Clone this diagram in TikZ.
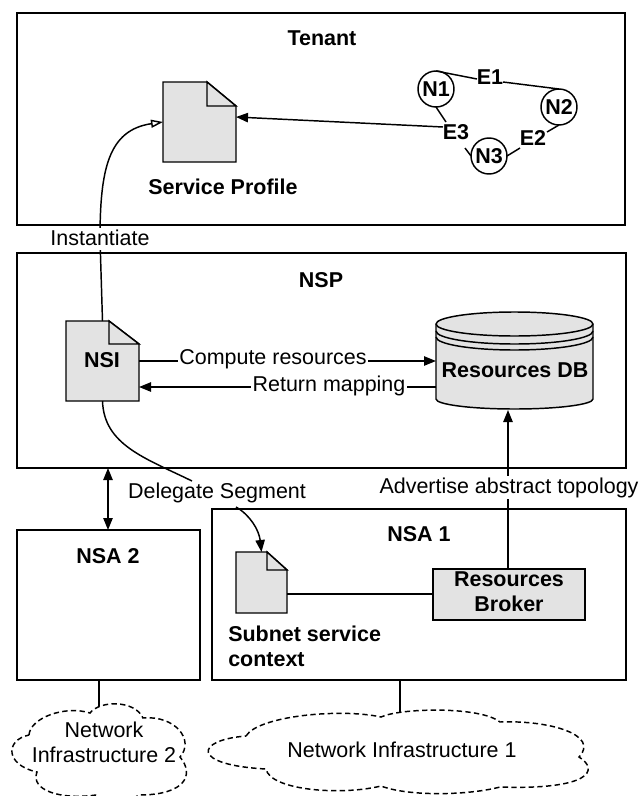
\documentclass[tikz,border=0pt]{standalone}
\usepackage{fontspec}
\setmainfont{Liberation Sans}
\usetikzlibrary{arrows.meta}
\definecolor{docgray}{HTML}{E3E3E3}
\tikzset{
  px/.style 2 args={minimum width=#1*0.75pt, minimum height=#2*0.75pt},
  panel/.style={draw=black, fill=white, line width=1.1pt, inner sep=0pt, outer sep=0pt},
  anchorbox/.style={inner sep=0pt, outer sep=0pt},
  shapeline/.style={draw=black, fill=docgray, line width=1.1pt, line join=miter},
  link/.style={draw=black, line width=1.1pt},
  head/.style={-{Triangle[length=9pt,width=7pt]}},
  openhead/.style={-{Triangle[open,fill=white,length=9pt,width=6pt]}},
  boldtext/.style={font=\fontsize{16.1}{18.75}\selectfont\bfseries, inner sep=0pt, align=center},
  plaintext/.style={font=\fontsize{16.1}{18.75}\selectfont, inner sep=0pt, align=center},
  masklabel/.style={plaintext, fill=white, inner xsep=1pt, inner ysep=1pt},
  cloudline/.style={draw=black, fill=white, line width=1.1pt, dash pattern=on 4pt off 2.5pt},
  circlenode/.style={circle, draw=black, fill=white, line width=1.1pt, minimum size=27pt, inner sep=0pt, outer sep=0pt, font=\fontsize{16.1}{18}\selectfont\bfseries},
}
\begin{document}
\begin{tikzpicture}[x=0.75pt,y=-0.75pt]
\useasboundingbox (0,0) rectangle (639,796);
% panels
\node[panel, px={608}{212}] (tenant) at (321,119) {};
\node[panel, px={609}{215}] (nsp) at (321.5,360.5) {};
\node[panel, px={183}{150}] (nsa2) at (108.5,605) {};
\node[panel, px={414}{171}] (nsa1) at (419,594.5) {};
\node[boldtext] (tenantlabel) at (322,38) {Tenant};
\node[boldtext] (nsplabel) at (321,280) {NSP};
\node[boldtext] (nsa2label) at (108,556) {NSA 2};
\node[boldtext] (nsa1label) at (419,534) {NSA 1};
% documents
\node[anchorbox, px={73}{80}] (sp) at (199.5,122) {};
\draw[shapeline] (sp.north west) -- (207,82) -- (236,106) -- (sp.south east) -- (sp.south west) -- cycle;
\draw[shapeline] (207,82) -- (207,106) -- (236,106) -- cycle;
\node[boldtext] (splabel) at (223,187) {Service Profile};
\node[anchorbox, px={73}{80}] (nsi) at (102.5,361) {};
\draw[shapeline] (nsi.north west) -- (109,321) -- (139,344) -- (nsi.south east) -- (nsi.south west) -- cycle;
\draw[shapeline] (109,321) -- (109,344) -- (139,344) -- cycle;
\node[boldtext] (nsilabel) at (102,360) {NSI};
\node[anchorbox, px={51}{61}] (sub) at (261.5,582.5) {};
\draw[shapeline] (sub.north west) -- (267,552) -- (287,570) -- (sub.south east) -- (sub.south west) -- cycle;
\draw[shapeline] (267,552) -- (267,570) -- (287,570) -- cycle;
\node[boldtext, anchor=west, align=left] (sublabel) at (228,646.5) {Subnet service\\context};
% database
\node[anchorbox, px={157}{96}] (db) at (514.5,361) {};
\draw[shapeline] (436,324) -- (436,399) arc[start angle=180, end angle=360, x radius=78.5, y radius=-10] -- (593,324) arc[start angle=0, end angle=180, x radius=78.5, y radius=-12] -- cycle;
\draw[shapeline] (436,324) arc[start angle=180, end angle=360, x radius=78.5, y radius=-12];
\draw[link] (436,331) arc[start angle=180, end angle=360, x radius=78.5, y radius=-13];
\draw[link] (436,337) arc[start angle=180, end angle=360, x radius=78.5, y radius=-13];
\node[boldtext] (dblabel) at (515,370) {Resources DB};
% broker
\node[panel, fill=docgray, px={152}{51}] (broker) at (509,594.5) {};
\node[boldtext] (brokerlabel) at (509,591.5) {Resources\\Broker};
% graph nodes
\node[circlenode] (n1) at (436,89) {N1};
\node[circlenode] (n2) at (559,107) {N2};
\node[circlenode] (n3) at (489,156) {N3};
\node[boldtext] (e1) at (490,77) {E1};
\node[boldtext] (e2) at (533,138) {E2};
\node[boldtext] (e3) at (456,132) {E3};
\coordinate (e1w) at (477,79);
\coordinate (e1e) at (503,82);
\coordinate (e2ne) at (547,132);
\coordinate (e2sw) at (520,148);
\coordinate (e3n) at (446,122);
\coordinate (e3s) at (465,148);
\coordinate (e3w) at (443,127);
\draw[link] (n1.north) -- (e1w);
\draw[link] (e1e) -- (n2.north);
\draw[link] (n2.south) -- (e2ne);
\draw[link] (e2sw) -- (n3.east);
\draw[link] (n1.south) -- (e3n);
\draw[link] (e3s) -- (n3.west);
\draw[link, head] (e3w) -- (sp.east |- 0,117);
% instantiate
\coordinate (instA) at (100,239);
\draw[link, openhead] (nsi.north) -- (instA) .. controls (100,170) and (108,130) .. (sp.west);
\node[masklabel, text height=12pt, text depth=2pt] (inst) at (100,239) {Instantiate};
% compute / return
\draw[link, head] (nsi.east) -- (db.west);
\node[masklabel] (compute) at (273,359.5) {Compute resources};
\draw[link, head] (db.west |- 0,387) -- (nsi.east |- 0,387);
\node[masklabel] (ret) at (329,386) {Return mapping};
% delegate
\node[masklabel] (deleg) at (217,492.5) {Delegate Segment};
\coordinate (delegA) at (192,481);
\coordinate (delegB) at (236,507);
\draw[link] (nsi.south) .. controls (104,445) and (145,458) .. (delegA);
\draw[link, head] (delegB) .. controls (250,515) and (259,530) .. (sub.north);
% advertise
\coordinate (advTop) at (508,410);
\draw[link, head] (broker.north -| advTop) -- (advTop);
\node[masklabel] (adv) at (509,487.5) {Advertise abstract topology};
% double arrow
\draw[link, {Triangle[length=9pt,width=7pt]}-{Triangle[length=9pt,width=7pt]}] (nsa2.north -| 108,0) -- (nsp.south -| 108,0);
% subnet to broker
\draw[link] (sub.east |- 0,594) -- (broker.west |- 0,594);
% cloud connectors
\coordinate (c2top) at (99,706);
\coordinate (c1top) at (400,712);
\draw[link] (nsa2.south -| c2top) -- (c2top);
\draw[link] (nsa1.south -| c1top) -- (c1top);
% clouds
\draw[cloudline] (246,736) .. controls (258,716) and (340,708) .. (381,717)
  .. controls (400,708) and (480,706) .. (500,722)
  .. controls (550,720) and (600,735) .. (579,757)
  .. controls (600,770) and (590,790) .. (500,787)
  .. controls (470,795) and (410,797) .. (381,786)
  .. controls (340,796) and (270,790) .. (266,769)
  .. controls (190,765) and (195,740) .. (246,736) -- cycle;
\draw[cloudline] (29,735) .. controls (30,718) and (65,705) .. (90,713)
  .. controls (100,700) and (135,700) .. (143,718)
  .. controls (175,715) and (195,740) .. (180,757)
  .. controls (195,775) and (185,795) .. (139,795)
  .. controls (130,802) and (105,802) .. (96,795)
  .. controls (60,800) and (30,790) .. (37,772)
  .. controls (5,765) and (5,740) .. (29,735) -- cycle;
\node[plaintext] (net2) at (104,742.5) {Network\\Infrastructure 2};
\node[plaintext] (net1) at (402,750) {Network Infrastructure 1};
\end{tikzpicture}
\end{document}
